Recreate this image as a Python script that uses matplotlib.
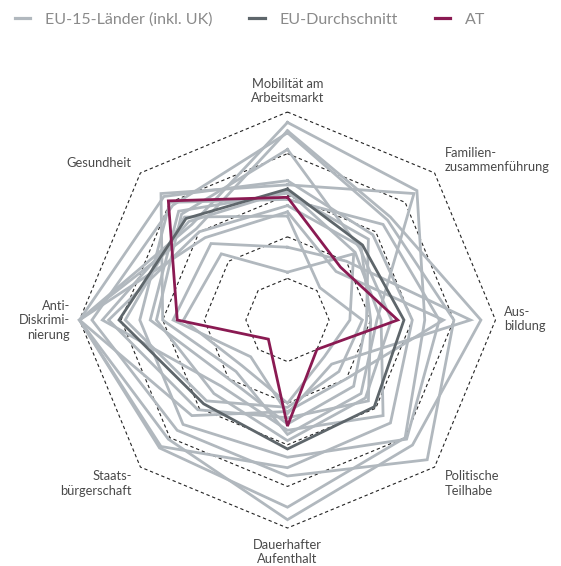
import numpy as np
import matplotlib
matplotlib.use("Agg")
import matplotlib.pyplot as plt
from matplotlib.lines import Line2D

plt.rcParams['font.family'] = ['Lato', 'DejaVu Sans']

# Dimensions (clockwise from top)
categories = ["Mobilität am\nArbeitsmarkt", "Familien-\nzusammenführung", "Aus-\nbildung",
              "Politische\nTeilhabe", "Dauerhafter\nAufenthalt", "Staats-\nbürgerschaft",
              "Anti-\nDiskrimi-\nnierung", "Gesundheit"]

# EU-15 countries (scores 0-100)
countries = {
    "PT": [95, 88, 66, 80, 90, 87, 100, 65],
    "SE": [91, 70, 93, 85, 96, 81, 100, 62],
    "FI": [90, 68, 80, 95, 75, 75, 94, 78],
    "DE": [82, 49, 50, 53, 58, 50, 63, 72],
    "BE": [67, 58, 60, 70, 71, 86, 100, 84],
    "LU": [58, 65, 73, 81, 66, 71, 71, 80],
    "NL": [62, 46, 45, 65, 53, 45, 89, 67],
    "ES": [65, 86, 43, 50, 55, 35, 60, 86],
    "IT": [61, 55, 38, 45, 50, 40, 66, 74],
    "FR": [55, 50, 40, 55, 47, 61, 86, 60],
    "UK": [52, 33, 75, 40, 44, 65, 100, 56],
    "IE": [50, 22, 36, 35, 42, 55, 78, 70],
    "DK": [35, 40, 88, 30, 45, 25, 55, 52],
    "GR": [23, 45, 30, 25, 40, 31, 50, 45],
}
eu_avg = [63, 51, 56, 59, 62, 57, 81, 69]
at_vals = [59, 36, 53, 20, 51, 13, 53, 81]
rings = [20, 40, 60, 80, 100]

n = len(categories)
angles = np.deg2rad(90 - 45 * np.arange(n))

def xy(vals):
    v = np.asarray(vals, dtype=float)
    v = np.append(v, v[0])
    a = np.append(angles, angles[0])
    return v * np.cos(a), v * np.sin(a)

fig = plt.figure(figsize=(5.61, 5.66), dpi=100)
ax = fig.add_axes([0.1417, 0.0671, 0.7415, 0.735])
ax.set_xlim(-100, 100)
ax.set_ylim(-100, 100)
ax.set_aspect('equal')
ax.axis('off')

for r in rings:
    x, y = xy([r] * n)
    ax.plot(x, y, color='#222222', lw=0.8, ls=(0, (3, 2.5)), zorder=1, clip_on=False)

grey = '#B1B8BE'
dark = '#5E666B'
maroon = '#8A1A52'

for name, vals in countries.items():
    x, y = xy(vals)
    ax.plot(x, y, color=grey, lw=2.0, zorder=2, clip_on=False, solid_joinstyle='miter')

x, y = xy(eu_avg)
ax.plot(x, y, color=dark, lw=2.0, zorder=3, clip_on=False, solid_joinstyle='miter')
x, y = xy(at_vals)
ax.plot(x, y, color=maroon, lw=2.0, zorder=4, clip_on=False, solid_joinstyle='miter')

# Category labels
tc = '#4a4a4a'
fs = 9.3
lab = dict(color=tc, fontsize=fs, linespacing=1.25)
ax.text(0, 110, categories[0], ha='center', va='center', **lab)
ax.text(75.5, 77, categories[1], ha='left', va='center', **lab)
ax.text(104, 0.5, categories[2], ha='left', va='center', **lab)
ax.text(75.5, -78.5, categories[3], ha='left', va='center', **lab)
ax.text(0, -111.5, categories[4], ha='center', va='center', **lab)
ax.text(-75, -78.5, categories[5], ha='right', va='center', **lab)
ax.text(-104.5, 0, categories[6], ha='right', va='center', **lab)
ax.text(-75, 75.5, categories[7], ha='right', va='center', **lab)

handles = [Line2D([], [], color=grey, lw=2.3),
           Line2D([], [], color=dark, lw=2.3),
           Line2D([], [], color=maroon, lw=2.3)]
labels = ["EU-15-Länder (inkl. UK)", "EU-Durchschnitt", "AT"]
leg = fig.legend(handles, labels, loc='upper left', bbox_to_anchor=(0.015, 0.989), ncol=3,
                 frameon=False, fontsize=11.5, handlelength=0.95, handletextpad=0.95,
                 columnspacing=2.3, borderaxespad=0.0)
for t in leg.get_texts():
    t.set_color('#8a8a8a')

fig.savefig('out.png', dpi=100)
